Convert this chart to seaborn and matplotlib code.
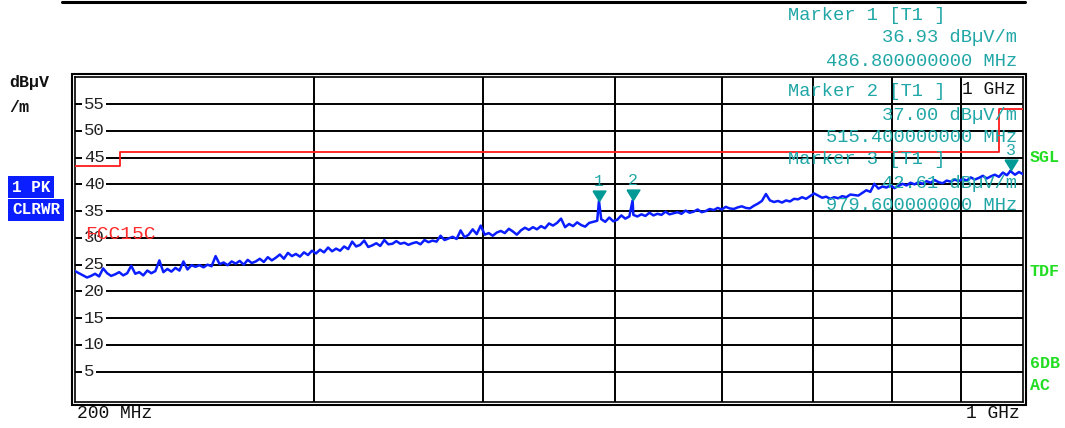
"""Spectrum analyser screenshot: radiated emission scan 200 MHz - 1 GHz."""
import numpy as np
import pandas as pd
import matplotlib
matplotlib.use("Agg")
import matplotlib.pyplot as plt
from matplotlib.lines import Line2D
from matplotlib.patches import Rectangle
from matplotlib.path import Path
from matplotlib.ticker import NullLocator
import seaborn as sns

# display sweep, 200 MHz .. 1 GHz, one point every ~4 px on the log axis
F_START, F_STOP = 200.0, 1000.0
LEVELS = [
    23.8, 23.4, 23.0, 22.6, 22.9, 23.3, 22.8, 24.3, 23.4, 22.9,
    23.2, 23.6, 23.0, 23.4, 24.8, 23.3, 23.6, 23.0, 23.9, 23.4,
    23.8, 25.8, 23.6, 24.2, 23.7, 24.4, 23.9, 25.6, 24.1, 24.9,
    24.6, 24.9, 24.5, 25.0, 24.7, 26.6, 25.1, 25.4, 24.9, 25.6,
    25.2, 25.7, 25.0, 25.9, 25.3, 25.6, 26.1, 25.5, 26.4, 25.8,
    26.3, 26.9, 26.1, 27.2, 26.6, 27.0, 26.5, 27.3, 26.8, 27.6,
    27.1, 27.8, 27.3, 28.2, 27.5, 28.0, 27.6, 28.4, 27.9, 29.3,
    28.4, 28.7, 29.5, 28.3, 28.6, 29.0, 28.5, 29.6, 28.8, 28.9,
    29.4, 28.9, 29.1, 28.7, 29.0, 29.2, 28.8, 29.6, 29.2, 29.5,
    29.3, 30.4, 29.6, 29.9, 30.2, 29.8, 31.4, 30.1, 30.6, 31.6,
    30.7, 32.3, 30.6, 30.9, 30.4, 31.0, 31.3, 30.9, 31.7, 31.2,
    30.6, 31.4, 31.9, 31.5, 32.0, 31.6, 32.2, 31.8, 32.7, 32.3,
    32.8, 33.6, 32.0, 32.6, 32.2, 32.9, 32.4, 32.1, 32.8, 33.0,
    33.2, 33.5, 33.0, 33.8, 33.1, 33.4, 34.2, 33.6, 34.0, 34.3,
    34.0, 34.4, 34.1, 34.7, 34.2, 34.5, 34.3, 34.9, 34.4, 34.6,
    34.8, 34.5, 35.1, 34.7, 34.9, 35.3, 34.8, 35.0, 35.4, 35.2,
    35.6, 35.3, 35.8, 35.5, 35.4, 35.7, 35.9, 35.6, 35.5, 36.0,
    36.4, 36.9, 38.2, 37.0, 36.7, 36.9, 36.6, 37.0, 36.8, 37.3,
    37.2, 37.6, 37.3, 37.8, 38.3, 37.9, 37.5, 37.7, 37.3, 37.6,
    37.4, 37.8, 37.6, 38.1, 38.0, 37.9, 38.4, 38.9, 38.6, 40.1,
    39.2, 39.6, 39.4, 39.8, 39.3, 39.7, 40.1, 39.8, 40.3, 40.0,
    40.4, 40.1, 40.6, 40.3, 40.8, 40.4, 40.2, 40.7, 40.5, 40.9,
    40.6, 41.0, 40.7, 41.3, 40.9, 41.2, 41.6, 41.1, 41.5, 41.8,
    41.4, 42.2, 41.7, 42.4, 41.8, 42.3, 41.9,
]

MARKER_FREQ = [486.8, 515.4, 979.6]
MARKER_LEVEL = [36.93, 37.00, 42.61]

LIMIT_FREQ = [200, 216, 960, 1000]
LIMIT_LEVEL = [43.5, 46.0, 54.0, 54.0]

GRID_FREQ = [300, 400, 500, 600, 700, 800, 900]
Y_TICKS = [5, 10, 15, 20, 25, 30, 35, 40, 45, 50, 55]

W, H = 1065, 428
TEAL = "#22a7a7"
TRI = "#009a96"
BLUE = "#0a1eff"
GREEN = "#22dd22"
MONO = "Liberation Mono"


def px(x, y):
    """Pixel position (from top-left) to figure fraction."""
    return x / W, 1 - y / H


def main():
    sns.set_theme(style="white")
    plt.rcParams["font.family"] = [MONO, "DejaVu Sans Mono"]

    freq = np.geomspace(F_START, F_STOP, len(LEVELS))
    trace = pd.concat([
        pd.DataFrame({"freq": freq, "level": LEVELS}),
        pd.DataFrame({"freq": MARKER_FREQ, "level": MARKER_LEVEL}),
    ]).sort_values("freq")
    limit = pd.DataFrame({"freq": LIMIT_FREQ, "level": LIMIT_LEVEL})

    fig = plt.figure(figsize=(W / 100, H / 100), dpi=100)
    x0, y0 = px(75, 402)
    x1, y1 = px(1023, 77)
    ax = fig.add_axes([x0, y0, x1 - x0, y1 - y0])

    sns.lineplot(data=limit, x="freq", y="level", ax=ax, color="#ff1a1a",
                 lw=1.3, drawstyle="steps-post", zorder=3)
    sns.lineplot(data=trace, x="freq", y="level", ax=ax, color=BLUE,
                 lw=1.8, sort=False, zorder=4)

    # marker triangles: tip sits on the trace, body above it
    tri = Path([(-0.62, 1.0), (0.62, 1.0), (0.0, 0.0), (-0.62, 1.0)])
    ax.plot(MARKER_FREQ, MARKER_LEVEL, ls="none", marker=tri, ms=15,
            color=TRI, mec=TRI, zorder=5)
    for i, (f, lv) in enumerate(zip(MARKER_FREQ, MARKER_LEVEL)):
        ax.annotate(str(i + 1), (f, lv), xytext=(0, 14), textcoords="offset points",
                    ha="center", va="center", color=TEAL, fontsize=12, zorder=5)

    ax.set_xscale("log")
    ax.set_xlim(F_START, F_STOP)
    ax.set_ylim(-0.65, 60.05)
    ax.set_xticks(GRID_FREQ)
    ax.xaxis.set_minor_locator(NullLocator())
    ax.set_yticks(Y_TICKS)
    ax.tick_params(length=0, labelbottom=False, labelleft=False)
    ax.grid(True, color="black", lw=1.4)
    ax.set_axisbelow(True)
    ax.set_xlabel("")
    ax.set_ylabel("")
    for sp in ax.spines.values():
        sp.set_color("black")
        sp.set_linewidth(1.2)

    # level labels sit inside the grid, on a white patch
    for v in Y_TICKS:
        ax.text(0.0095, v, str(v), transform=ax.get_yaxis_transform(),
                ha="left", va="center", fontsize=12.5, color="#222222",
                bbox=dict(facecolor="white", edgecolor="none", pad=1.2), zorder=2)

    ax.text(0.011, 30.6, "FCC15C", transform=ax.get_yaxis_transform(),
            ha="left", va="center", fontsize=14, color="#ff2a2a", zorder=6)

    # outer frame line and the top rule
    fx0, fy0 = px(72, 405)
    fx1, fy1 = px(1026, 74)
    fig.add_artist(Rectangle((fx0, fy0), fx1 - fx0, fy1 - fy0, fill=False,
                             ec="black", lw=1.5, transform=fig.transFigure))
    lx0, ly = px(62, 2)
    lx1, _ = px(1025, 2)
    fig.add_artist(Line2D([lx0, lx1], [ly, ly], color="black", lw=2.2,
                          transform=fig.transFigure))

    # marker readouts
    rows = [
        ("Marker 1 [T1 ]", "36.93 dBµV/m", "486.800000000 MHz", 15),
        ("Marker 2 [T1 ]", "37.00 dBµV/m", "515.400000000 MHz", 92),
        ("Marker 3 [T1 ]", "42.61 dBµV/m", "979.600000000 MHz", 160),
    ]
    for title, level, freq_txt, ty in rows:
        fig.text(*px(788, ty), title, ha="left", va="center", fontsize=13.5, color=TEAL)
        fig.text(*px(1017, ty + 23), level, ha="right", va="center", fontsize=13.5, color=TEAL)
        fig.text(*px(1017, ty + 46), freq_txt, ha="right", va="center", fontsize=13.5, color=TEAL)

    fig.text(*px(1016, 90), "1 GHz", ha="right", va="center", fontsize=13, color="#111111")
    fig.text(*px(77, 414), "200 MHz", ha="left", va="center", fontsize=13, color="#111111")
    fig.text(*px(1020, 414), "1 GHz", ha="right", va="center", fontsize=13, color="#111111")

    # left side unit and trace labels
    fig.text(*px(9, 83), "dBµV", ha="left", va="center", fontsize=12,
             fontweight="bold", color="#111111")
    fig.text(*px(9, 107), "/m", ha="left", va="center", fontsize=12,
             fontweight="bold", color="#111111")
    for txt, ty in [("1 PK", 187), ("CLRWR", 210)]:
        fig.text(*px(12, ty), txt, ha="left", va="center", fontsize=11.5,
                 fontweight="bold", color="white",
                 bbox=dict(facecolor=BLUE, edgecolor="none", pad=2.5))

    # right side status flags
    for txt, ty in [("SGL", 158), ("TDF", 272), ("6DB", 364), ("AC", 386)]:
        fig.text(*px(1030, ty), txt, ha="left", va="center", fontsize=12,
                 fontweight="bold", color=GREEN)

    fig.savefig("out.png", dpi=100)
    plt.close(fig)


if __name__ == "__main__":
    main()
